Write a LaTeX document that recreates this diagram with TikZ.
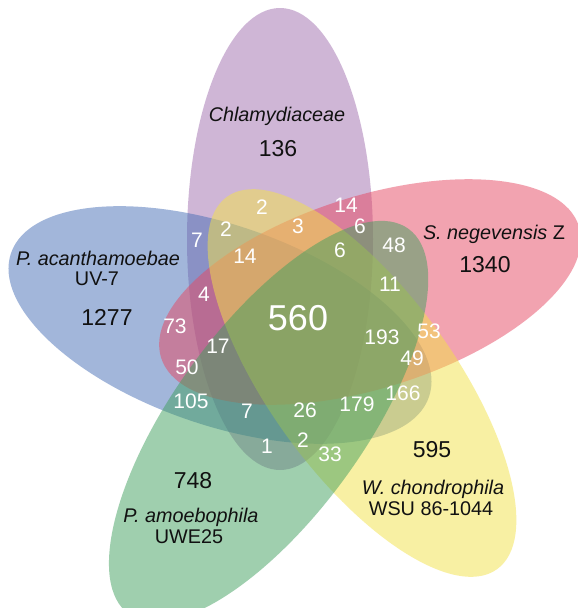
\documentclass[tikz,border=0pt]{standalone}
\usepackage{fontspec}
\setmainfont{Liberation Sans}
\definecolor{cPur}{RGB}{160,110,175}
\definecolor{cBlu}{RGB}{70,110,182}
\definecolor{cRed}{RGB}{230,72,98}
\definecolor{cYel}{RGB}{243,226,72}
\definecolor{cGrn}{RGB}{65,160,95}
\definecolor{cInk}{RGB}{17,17,17}
\begin{document}
\begin{tikzpicture}[x=1pt,y=-1pt,
  venn/.style={fill opacity=0.5},
  txt/.style={inner sep=0pt, text height=0.716em, text depth=0pt, anchor=center},
  lab/.style={txt, text=cInk, font=\fontsize{19.8}{22}\selectfont},
  big/.style={txt, text=cInk, font=\fontsize{23}{26}\selectfont},
  num/.style={txt, text=white, font=\fontsize{21}{24}\selectfont},
  core/.style={txt, text=white, font=\fontsize{36}{40}\selectfont}]
\useasboundingbox (0,0) rectangle (578,608);
\fill[white] (0,0) rectangle (578,608);
\begin{scope}
\clip (0,0) rectangle (578,608);
\fill[cPur, venn, shift={(280,239)}, rotate=90] (0,0) ellipse [x radius=231pt, y radius=93pt];
\fill[cBlu, venn, shift={(220,325)}, rotate=161] (0,0) ellipse [x radius=221pt, y radius=100pt];
\fill[cRed, venn, shift={(370,292)}, rotate=17.5] (0,0) ellipse [x radius=219pt, y radius=96pt];
\fill[cYel, venn, shift={(362,383)}, rotate=-54] (0,0) ellipse [x radius=230pt, y radius=92pt];
\fill[cGrn, venn, shift={(268.6,421.4)}, rotate=54] (0,0) ellipse [x radius=238pt, y radius=95pt];
\end{scope}
% set labels
\node[lab] (tChl) at (277,118) {\textit{Chlamydiaceae}};
\node[big] (nChl) at (278,153) {136};
\node[lab] (tAca) at (98,262) {\textit{P. acanthamoebae}};
\node[lab] (sAca) at (97,282) {UV-7};
\node[big] (nAca) at (107,322) {1277};
\node[lab] (tNeg) at (494,236) {\textit{S. negevensis} Z};
\node[big] (nNeg) at (485,269) {1340};
\node[big] (nCho) at (432,454) {595};
\node[lab] (tCho) at (433,491) {\textit{W. chondrophila}};
\node[lab] (sCho) at (431,512) {WSU 86-1044};
\node[big] (nAmo) at (193,485) {748};
\node[lab] (tAmo) at (191,519) {\textit{P. amoebophila}};
\node[lab] (sAmo) at (189,540) {UWE25};
% overlap counts
\node[num] (o1) at (262,211) {2};
\node[num] (o2) at (346,209) {14};
\node[num] (o3) at (226,233) {2};
\node[num] (o4) at (298,230) {3};
\node[num] (o5) at (360,230) {6};
\node[num] (o6) at (197,244) {7};
\node[num] (o7) at (245,260) {14};
\node[num] (o8) at (340,254) {6};
\node[num] (o9) at (394,249) {48};
\node[num] (o10) at (204,298) {4};
\node[num] (o11) at (390,288) {11};
\node[num] (o12) at (175,330) {73};
\node[core] (o13) at (298,327) {560};
\node[num] (o14) at (382,341) {193};
\node[num] (o15) at (429,335) {53};
\node[num] (o16) at (218,350) {17};
\node[num] (o17) at (412,362) {49};
\node[num] (o18) at (187,371) {50};
\node[num] (o19) at (403,397) {166};
\node[num] (o20) at (191,405) {105};
\node[num] (o21) at (247,415) {7};
\node[num] (o22) at (305,414) {26};
\node[num] (o23) at (357,408) {179};
\node[num] (o24) at (267,450) {1};
\node[num] (o25) at (303,444) {2};
\node[num] (o26) at (330,458) {33};
\end{tikzpicture}
\end{document}
